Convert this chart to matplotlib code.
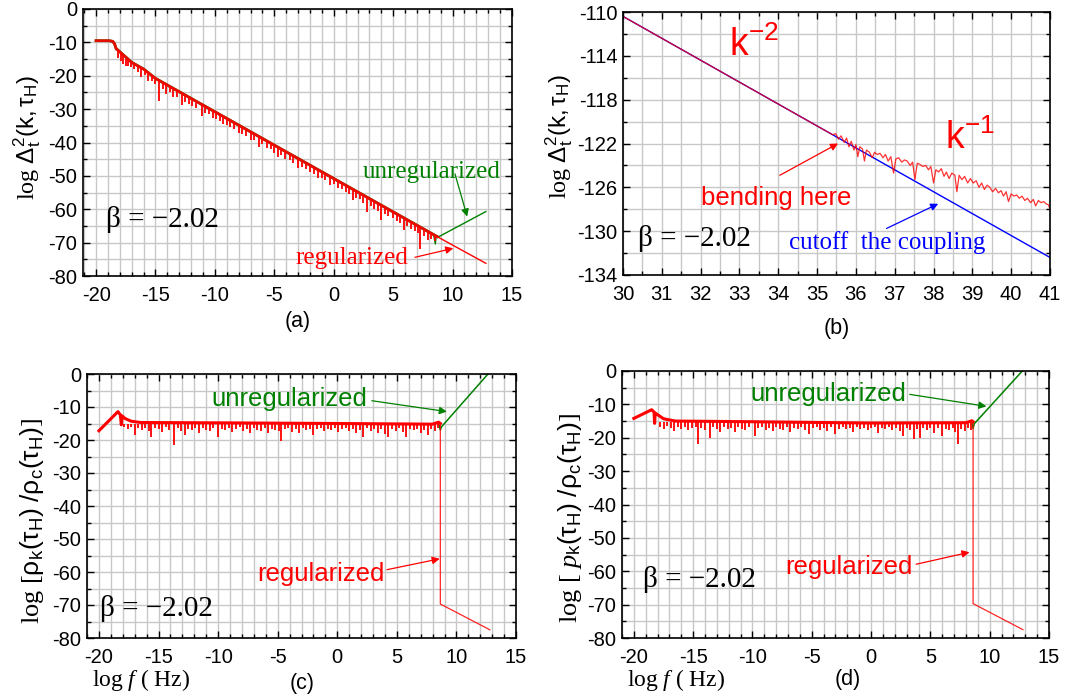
import numpy as np
import matplotlib
matplotlib.use('Agg')
import matplotlib.pyplot as plt
from matplotlib.ticker import MultipleLocator, FixedLocator

plt.rcParams['font.family'] = ['Liberation Sans', 'DejaVu Sans']
plt.rcParams['axes.unicode_minus'] = False
plt.rcParams['mathtext.fontset'] = 'custom'
plt.rcParams['mathtext.rm'] = 'Liberation Serif'
plt.rcParams['mathtext.it'] = 'Liberation Serif:italic'
plt.rcParams['mathtext.sf'] = 'Liberation Sans'
plt.rcParams['mathtext.bf'] = 'Liberation Serif:bold'

# ---------------- data: panel (a) ----------------
a_base_x = [-20, -18.9, -18.6, -18.45, -18.3, -18.2, -17, -16, -15, 8.7]
a_base_y = [-9.5, -9.5, -9.7, -10.4, -12.0, -12.2, -16.0, -18.0, -20.8, -68.2]
a_dip_x = [
    -18.15, -17.9, -17.7, -17.5, -17.3, -17.1, -16.8, -16.5, -16.2, -15.9,
    -15.6, -15.3, -15.0, -14.7, -14.4, -14.1, -13.8, -13.5, -13.2, -12.8,
    -12.5, -12.2, -11.9, -11.6, -11.1, -10.8, -10.5, -10.2, -9.9, -9.6,
    -9.3, -9.0, -8.7, -8.4, -8.0, -7.7, -7.4, -7.0, -6.7, -6.3,
    -6.0, -5.6, -5.3, -5.0, -4.7, -4.4, -4.1, -3.7, -3.4, -3.0,
    -2.7, -2.3, -2.0, -1.7, -1.3, -1.0, -0.7, -0.3, 0.0, 0.4,
    0.7, 1.0, 1.3, 1.6, 1.9, 2.2, 2.5, 2.8, 3.1, 3.4,
    3.7, 4.0, 4.3, 4.6, 5.0, 5.3, 5.6, 5.9, 6.2, 6.5,
    6.8, 7.1, 7.3, 7.6, 7.9, 8.2, 8.5]
a_dip_top = [
    -12.3, -13.3, -14.1, -14.9, -15.3, -15.8, -16.4, -17.0, -17.6, -18.2,
    -19.0, -19.8, -20.8, -21.4, -22.0, -22.6, -23.2, -23.8, -24.4, -25.2,
    -25.8, -26.4, -27.0, -27.6, -28.6, -29.2, -29.8, -30.4, -31.0, -31.6,
    -32.2, -32.8, -33.4, -34.0, -34.8, -35.4, -36.0, -36.8, -37.4, -38.2,
    -38.8, -39.6, -40.2, -40.8, -41.4, -42.0, -42.6, -43.4, -44.0, -44.8,
    -45.4, -46.2, -46.8, -47.4, -48.2, -48.8, -49.4, -50.2, -50.8, -51.6,
    -52.2, -52.8, -53.4, -54.0, -54.6, -55.2, -55.8, -56.4, -57.0, -57.6,
    -58.2, -58.8, -59.4, -60.0, -60.8, -61.4, -62.0, -62.6, -63.2, -63.8,
    -64.4, -65.0, -65.4, -66.0, -66.6, -67.2, -67.8]
a_dip_bot = [
    -14.8, -15.5, -16.5, -17.0, -17.2, -17.5, -18.0, -19.0, -20.5, -19.8,
    -21.5, -21.5, -22.5, -27.7, -24.0, -25.5, -25.0, -26.5, -26.3, -28.7,
    -27.8, -28.5, -29.0, -29.6, -32.2, -31.3, -31.5, -32.8, -33.0, -33.5,
    -34.5, -34.8, -35.5, -36.0, -37.3, -37.5, -38.0, -39.2, -39.3, -41.2,
    -40.5, -41.5, -42.0, -43.0, -44.2, -43.8, -45.0, -45.3, -46.0, -47.7,
    -47.2, -48.0, -48.8, -49.3, -50.5, -50.5, -51.3, -52.7, -52.5, -53.5,
    -54.0, -54.8, -55.5, -57.2, -56.5, -57.0, -58.0, -60.7, -59.0, -59.8,
    -60.5, -63.2, -61.5, -62.0, -62.5, -63.5, -64.0, -66.2, -65.0, -66.0,
    -66.5, -67.0, -72.0, -68.0, -69.2, -69.0, -69.5]
a_reg_x = [8.7, 12.8]
a_reg_y = [-68.2, -76.2]
a_unreg_x = [8.4, 8.55, 8.62, 8.8, 12.8]
a_unreg_y = [-67.6, -70.4, -68.0, -68.3, -60.7]

# ---------------- data: panel (b) ----------------
b_blue_x = [30, 41]
b_blue_y = [-110.4, -132.4]
b_red_x = [30.0, 35.30, 35.40, 35.48, 35.55, 35.62, 35.70, 35.76, 35.82, 35.88,
           35.95, 36.00, 36.05, 36.10, 36.17, 36.22, 36.27, 36.35, 36.42, 36.48,
           36.55, 36.62, 36.70, 36.76, 36.83, 36.90, 36.97, 37.03, 37.10, 37.18,
           37.25, 37.32, 37.40, 37.46, 37.52, 37.58, 37.65, 37.72, 37.80, 37.87,
           37.93, 38.00, 38.06, 38.13, 38.20, 38.27, 38.33, 38.40, 38.47, 38.55,
           38.60, 38.66, 38.73, 38.80, 38.88, 38.95, 39.02, 39.10, 39.17, 39.24,
           39.31, 39.38, 39.45, 39.52, 39.60, 39.67, 39.74, 39.80, 39.87, 39.93,
           40.00, 40.07, 40.14, 40.21, 40.28, 40.35, 40.42, 40.50, 40.57, 40.63,
           40.70, 40.77, 40.84, 40.90, 40.96, 41.00]
b_red_y = [-110.4, -121.0, -121.2, -121.1, -121.6, -121.3, -121.9, -121.5, -122.3, -121.8,
           -122.6, -122.1, -123.2, -122.3, -122.5, -123.6, -122.6, -122.8, -123.3, -122.8,
           -123.0, -122.9, -123.3, -123.0, -123.6, -123.2, -124.7, -123.4, -123.3, -123.7,
           -123.5, -123.6, -124.0, -123.7, -125.3, -123.8, -123.9, -124.1, -124.0, -124.4,
           -124.1, -125.6, -124.4, -124.6, -124.3, -125.0, -124.6, -125.2, -124.7, -124.9,
           -126.4, -124.9, -125.3, -125.0, -125.6, -125.2, -125.6, -125.4, -126.0, -125.6,
           -126.2, -125.8, -126.0, -126.4, -126.1, -126.5, -126.3, -126.8, -126.4, -127.3,
           -126.6, -126.8, -126.7, -127.0, -126.8, -127.2, -127.0, -127.4, -127.1, -127.7,
           -127.2, -127.4, -127.3, -127.5, -127.6, -128.0]
b_yticks = [-134, -130, -126, -122, -118, -114, -110]

# ---------------- data: panel (c) ----------------
c_base_x = [-20, -18.4, -18.2, -18.12, -18.05, -17.8, -17.3, -16.5, -10, 0, 8.0, 8.5, 8.65]
c_base_y = [-17.2, -11.4, -12.4, -15.4, -12.7, -13.5, -14.3, -14.7, -14.8, -15.0, -15.2, -14.6, -15.0]
c_band_top = -15.0
c_dip_x = [
    -17.9, -17.6, -17.3, -17.0, -16.7, -16.4, -16.1, -15.8, -15.6, -15.3,
    -15.0, -14.7, -14.4, -14.1, -13.7, -13.4, -13.1, -12.8, -12.5, -12.2,
    -11.9, -11.6, -11.3, -11.0, -10.7, -10.4, -10.0, -9.7, -9.4, -9.1,
    -8.8, -8.5, -8.2, -7.9, -7.6, -7.3, -7.0, -6.7, -6.4, -6.1,
    -5.8, -5.5, -5.2, -4.9, -4.7, -4.4, -4.1, -3.8, -3.5, -3.2,
    -2.9, -2.6, -2.3, -2.0, -1.7, -1.4, -1.1, -0.8, -0.5, -0.2,
    0.1, 0.4, 0.7, 1.0, 1.3, 1.6, 1.9, 2.2, 2.5, 2.8,
    3.1, 3.4, 3.7, 4.0, 4.3, 4.6, 4.9, 5.2, 5.5, 5.8,
    6.1, 6.4, 6.7, 7.0, 7.3, 7.6, 7.9, 8.2, 8.45]
c_dip_y = [
    -16.2, -16.8, -16.0, -18.5, -16.5, -16.9, -16.3, -17.2, -19.0, -16.4,
    -16.8, -17.5, -16.2, -16.9, -21.5, -16.5, -17.2, -18.5, -16.6, -17.0,
    -16.3, -17.8, -16.5, -16.9, -17.3, -16.4, -19.2, -16.8, -17.1, -16.3,
    -17.6, -16.7, -16.2, -17.4, -16.8, -18.0, -16.5, -16.9, -17.2, -16.4,
    -17.8, -16.6, -16.9, -17.3, -20.2, -16.8, -16.4, -17.5, -16.7, -18.0,
    -16.5, -17.0, -16.6, -18.5, -16.8, -16.3, -17.4, -16.7, -17.0, -16.5,
    -17.6, -16.8, -16.4, -17.2, -16.6, -18.0, -16.9, -19.0, -16.5, -17.3,
    -16.7, -17.8, -16.6, -18.2, -19.0, -16.8, -17.2, -16.5, -17.5, -19.2,
    -16.8, -17.0, -16.6, -17.8, -16.9, -18.5, -16.7, -17.2, -16.5]
c_reg_x = [8.65, 8.65, 12.8]
c_reg_y = [-15.0, -69.7, -77.5]
c_unreg_x = [8.55, 8.65, 8.75, 12.65]
c_unreg_y = [-15.5, -17.0, -16.0, 0.0]

# ---------------- data: panel (d) ----------------
d_base_x = [-20, -18.5, -18.3, -18.25, -18.2, -17.5, -16.5, -10, 0, 8.0, 8.5, 8.6]
d_base_y = [-14.2, -11.6, -12.3, -15.7, -12.6, -14.3, -15.0, -15.2, -15.6, -15.5, -14.9, -15.2]
d_band_top = -15.4
d_dip_x = [
    -17.8, -17.5, -17.2, -16.9, -16.6, -16.3, -16.0, -15.7, -15.4, -15.1,
    -14.8, -14.6, -14.3, -14.0, -13.6, -13.3, -13.0, -12.7, -12.4, -12.1,
    -11.8, -11.5, -11.2, -10.9, -10.6, -10.3, -9.8, -9.5, -9.2, -8.9,
    -8.6, -8.3, -8.0, -7.7, -7.4, -7.1, -6.8, -6.5, -6.2, -5.9,
    -5.6, -5.2, -4.9, -4.6, -4.3, -4.0, -3.7, -3.4, -3.0, -2.7,
    -2.4, -2.1, -1.8, -1.5, -1.2, -0.9, -0.6, -0.3, 0.0, 0.3,
    0.6, 0.9, 1.2, 1.5, 1.8, 2.1, 2.4, 2.7, 3.0, 3.3,
    3.6, 3.9, 4.1, 4.4, 4.7, 5.0, 5.3, 5.6, 6.0, 6.3,
    6.6, 6.9, 7.1, 7.3, 7.6, 7.9, 8.2, 8.45]
d_dip_y = [
    -16.8, -17.5, -16.6, -17.2, -18.0, -16.9, -17.4, -16.7, -17.8, -17.0,
    -16.8, -21.9, -17.2, -17.6, -20.0, -16.9, -17.3, -18.2, -16.8, -17.5,
    -17.0, -18.3, -16.9, -17.4, -17.8, -16.8, -19.5, -17.2, -16.9, -17.6,
    -17.0, -18.0, -16.8, -17.3, -17.7, -16.9, -18.2, -17.0, -17.4, -16.8,
    -17.6, -19.0, -17.1, -16.9, -17.8, -17.2, -18.0, -16.9, -18.8, -17.3,
    -16.9, -17.5, -17.1, -18.2, -16.9, -17.4, -17.0, -17.8, -17.2, -16.9,
    -18.5, -17.1, -17.5, -16.9, -17.8, -17.2, -18.0, -19.5, -17.0, -17.6,
    -20.3, -17.3, -20.0, -17.0, -17.8, -17.2, -18.5, -17.0, -19.5, -17.3,
    -17.8, -17.0, -18.2, -22.0, -17.4, -18.0, -17.2, -17.6]
d_reg_x = [8.6, 8.6, 12.8]
d_reg_y = [-15.2, -69.7, -77.5]
d_unreg_x = [8.5, 8.6, 8.7, 12.75]
d_unreg_y = [-15.5, -17.2, -15.8, 0.0]

# ---------------- styling ----------------
RED = '#ff0000'
GREEN = '#008000'
BLUE = '#0000ff'
GRID = '#c8c8c8'
SERIF = 'Liberation Serif'
W, H = 1084, 700

fig = plt.figure(figsize=(W / 100, H / 100), dpi=100)


def px_axes(x0, y0, x1, y1):
    return fig.add_axes([x0 / W, 1 - y1 / H, (x1 - x0) / W, (y1 - y0) / H])


def style(ax, xlim, ylim, xmaj, xmin, ymaj, ymin):
    ax.set_xlim(*xlim)
    ax.set_ylim(*ylim)
    ax.xaxis.set_major_locator(MultipleLocator(xmaj))
    ax.xaxis.set_minor_locator(MultipleLocator(xmin))
    if isinstance(ymaj, list):
        ax.yaxis.set_major_locator(FixedLocator(ymaj))
    else:
        ax.yaxis.set_major_locator(MultipleLocator(ymaj))
    ax.yaxis.set_minor_locator(MultipleLocator(ymin))
    ax.grid(which='both', color=GRID, lw=1.0)
    ax.set_axisbelow(True)
    ax.tick_params(which='both', direction='in', top=True, right=True,
                   width=1.0, labelsize=14.5)
    ax.tick_params(which='major', length=5)
    ax.tick_params(which='minor', length=3)
    ax.tick_params(axis='x', pad=7)
    ax.tick_params(axis='y', pad=4)
    for s in ax.spines.values():
        s.set_linewidth(1.2)


def arrow(ax, tail, head, color):
    ax.annotate('', xy=head, xytext=tail,
                arrowprops=dict(arrowstyle='-|>', color=color, lw=0.9,
                                mutation_scale=11, shrinkA=0, shrinkB=0))


def ftext(x, y, s, **kw):
    fig.text(x / W, 1 - y / H, s, **kw)


# ---------------- panel (a) ----------------
ax = px_axes(83, 9, 512, 276)
style(ax, (-21.1, 15), (-80, 0), 5, 1, 10, 5)
ax.plot(a_base_x, a_base_y, color=GREEN, lw=2.0)
ax.plot(a_unreg_x, a_unreg_y, color=GREEN, lw=1.0)
ax.plot(a_base_x, a_base_y, color=RED, lw=2.0, alpha=0.9)
ax.vlines(a_dip_x, a_dip_bot, a_dip_top, color=RED, lw=1.3)
ax.plot(a_reg_x, a_reg_y, color=RED, lw=1.0)
ax.text(2.44, -48.7, 'unregularized', color=GREEN, family=SERIF, fontsize=18, va='center')
arrow(ax, (10.2, -49.4), (11.23, -62.2), GREEN)
ax.text(-3.25, -74.7, 'regularized', color=RED, family=SERIF, fontsize=18, va='center')
arrow(ax, (6.83, -74.4), (10.06, -71.7), RED)
ax.text(-19.2, -63.2, 'β = −2.02', family=SERIF, fontsize=21, va='center')
ftext(27, 138, r'$\mathrm{log}\ \mathsf{\Delta_t^2(k,\tau_H)}$', rotation=90,
      fontsize=17.5, ha='center', va='center')
ftext(298, 322, '(a)', fontsize=15.5, ha='center', va='center')

# ---------------- panel (b) ----------------
ax = px_axes(623, 12, 1050, 275)
style(ax, (30, 41), (-134, -110), 1, 0.5, b_yticks, 2)
ax.plot(b_blue_x, b_blue_y, color=BLUE, lw=1.0)
ax.plot(b_red_x, b_red_y, color=RED, lw=0.9, alpha=0.8)
ax.text(32.73, -114.05, r'$\mathsf{k^{-2}}$', color=RED, fontsize=27, va='baseline')
ax.text(38.29, -122.5, r'$\mathsf{k^{-1}}$', color=RED, fontsize=27, va='baseline')
ax.text(32.02, -127.6, 'bending here', color=RED, fontsize=18.5, va='baseline')
arrow(ax, (34.04, -124.9), (35.54, -122.0), RED)
ax.text(34.28, -131.6, 'cutoff  the coupling', color=BLUE, family=SERIF, fontsize=18, va='baseline')
arrow(ax, (36.79, -129.75), (38.12, -127.5), BLUE)
ax.text(30.39, -130.7, 'β = −2.02', family=SERIF, fontsize=21, va='center')
ftext(559, 137, r'$\mathrm{log}\ \mathsf{\Delta_t^2(k,\tau_H)}$', rotation=90,
      fontsize=17.5, ha='center', va='center')
ftext(837, 328, '(b)', fontsize=15.5, ha='center', va='center')

# ---------------- panel (c) ----------------
ax = px_axes(87, 374, 516, 638)
style(ax, (-21, 15), (-80, 0), 5, 1, 10, 5)
ax.plot(c_unreg_x, c_unreg_y, color=GREEN, lw=1.1)
ax.plot(c_base_x, c_base_y, color=RED, lw=2.2)
ax.vlines(c_dip_x, c_dip_y, c_band_top, color=RED, lw=1.3)
ax.plot(c_reg_x, c_reg_y, color=RED, lw=0.9, alpha=0.85)
ax.text(-10.6, -7.7, 'unregularized', color=GREEN, fontsize=18.5, va='center')
arrow(ax, (2.9, -8.1), (9.2, -11.4), GREEN)
ax.text(-6.75, -60.5, 'regularized', color=RED, fontsize=18.5, va='center')
arrow(ax, (4.17, -59.3), (8.6, -56.0), RED)
ax.text(-19.9, -71.0, 'β = −2.02', family=SERIF, fontsize=21, va='center')
ftext(32, 521, r'$\mathrm{log}\ [\mathsf{\rho_k(\tau_H)\ /\rho_c(\tau_H)}]$', rotation=90,
      fontsize=19, ha='center', va='center')
ftext(92, 680, r'$\mathrm{log}\ f\ \mathrm{(\ Hz)}$', fontsize=17, ha='left', va='center')
ftext(302, 684, '(c)', fontsize=15.5, ha='center', va='center')

# ---------------- panel (d) ----------------
ax = px_axes(622, 371, 1049, 638)
style(ax, (-21, 15), (-80, 0), 5, 1, 10, 5)
ax.plot(d_unreg_x, d_unreg_y, color=GREEN, lw=1.1)
ax.plot(d_base_x, d_base_y, color=RED, lw=2.2)
ax.vlines(d_dip_x, d_dip_y, d_band_top, color=RED, lw=1.3)
ax.plot(d_reg_x, d_reg_y, color=RED, lw=0.9, alpha=0.85)
ax.text(-10.17, -6.8, 'unregularized', color=GREEN, fontsize=18.5, va='center')
arrow(ax, (3.26, -7.0), (9.72, -10.6), GREEN)
ax.text(-7.27, -58.6, 'regularized', color=RED, fontsize=18.5, va='center')
arrow(ax, (3.8, -57.9), (8.3, -54.3), RED)
ax.text(-19.2, -62.5, 'β = −2.02', family=SERIF, fontsize=21, va='center')
ftext(570, 518, r'$\mathrm{log}\ [\ p_\mathsf{k}\mathsf{(\tau_H)\ /\rho_c(\tau_H)}]$', rotation=90,
      fontsize=19, ha='center', va='center')
ftext(627, 680, r'$\mathrm{log}\ f\ \mathrm{(\ Hz)}$', fontsize=17, ha='left', va='center')
ftext(848, 680, '(d)', fontsize=15.5, ha='center', va='center')

fig.savefig('out.png', dpi=100)
